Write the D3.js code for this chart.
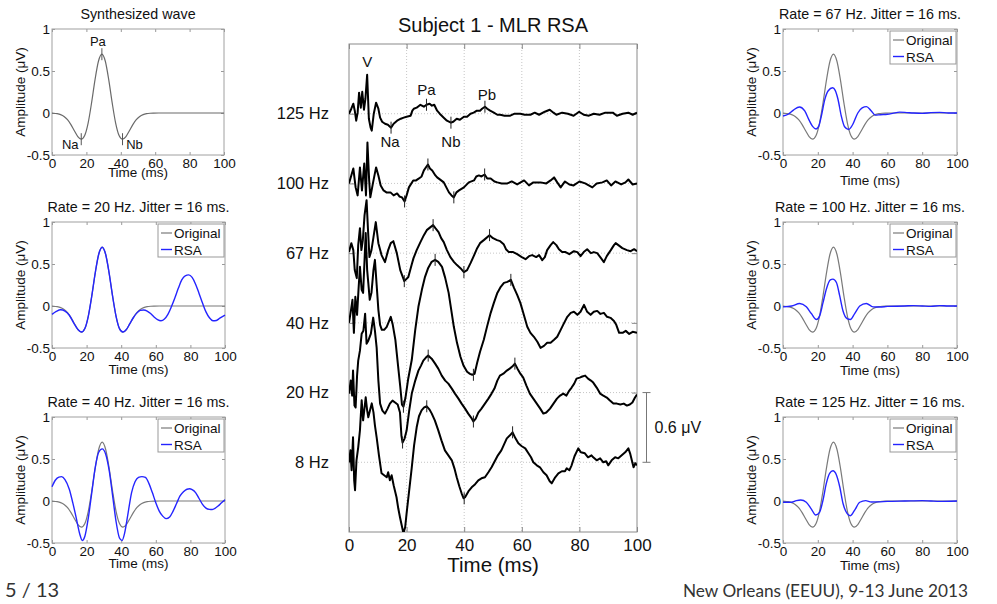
<!DOCTYPE html>
<html><head><meta charset="utf-8">
<script src="https://cdn.jsdelivr.net/npm/d3@7"></script>
<style>
body{margin:0;background:#fff;}
svg{display:block;font-family:"Liberation Sans",Arial,Helvetica,sans-serif;}
</style></head><body>
<svg id="chart" width="997" height="604"></svg>
<script>
// ================= DATA =================
const timeTicks = [0, 20, 40, 60, 80, 100];
const ampTicks = [-0.5, 0, 0.5, 1];
const rateLabels = ["125 Hz", "100 Hz", "67 Hz", "40 Hz", "20 Hz", "8 Hz"];
const rateOffsets = [3.0, 2.4, 1.8, 1.2, 0.6, 0];   // μV vertical offset of each trace
const scaleBarUV = 0.6;

// Center plot traces: [time ms, μV relative to own baseline]
const trace125 = [[0,0],[0.8,0.043],[1.5,0.086],[2,0.026],[2.5,-0.06],[3,0.009],[3.5,0.181],[4.1,0.052],[4.6,0.189],[5.2,0.034],[5.7,0.129],[6.3,0.335],[6.9,-0.043],[7.5,-0.12],[7.9,-0.146],[8.6,0],[9.4,0.095],[10.2,0.043],[10.8,-0.034],[11.5,-0.069],[12.5,-0.086],[13.5,-0.095],[14.6,-0.12],[15.5,-0.086],[16.7,-0.06],[18,-0.043],[19,-0.034],[20,-0.026],[21.4,-0.017],[22,0.026],[22.5,0.043],[23.5,0.052],[24.8,0.077],[26,0.06],[26.9,0.077],[28,0.086],[28.8,0.069],[29.6,0.077],[30.6,0.026],[31.5,0],[32.9,-0.034],[34,-0.06],[35.4,-0.077],[36.2,-0.069],[37.4,-0.043],[38.5,-0.052],[39.9,-0.026],[41,-0.026],[42.2,0],[43.3,0.009],[44.4,0.026],[45.5,0.026],[46.2,0.043],[47.2,0.06],[48,0.043],[49,0.026],[50.3,0.009],[51.5,-0.009],[52.5,-0.009],[54,-0.017],[56,-0.017],[57.5,0],[59.5,0],[61,-0.009],[63,-0.009],[64.5,0.009],[66,-0.009],[68,0.017],[69.7,0.034],[71,0.009],[72,-0.009],[74,0.009],[76,0],[78,-0.017],[79.9,0.017],[81.5,-0.009],[83.3,-0.017],[85,0],[87,-0.009],[89,0.009],[91.6,0.009],[93,-0.017],[95,0],[97,0.009],[98.5,-0.009],[100,0.009]];
const trace100 = [[0,0],[0.8,0.069],[1.5,0.129],[2.3,-0.034],[3,-0.103],[3.8,0.138],[4.5,-0.06],[5.3,0.172],[5.9,-0.103],[6.4,0.353],[7,0.026],[7.4,-0.12],[8.3,0],[9.4,0.138],[10.2,0.069],[11,-0.017],[12,-0.06],[13,-0.077],[14.4,-0.077],[15.5,-0.103],[16.7,-0.086],[17.5,-0.112],[18.4,-0.12],[19.3,-0.155],[20,-0.103],[20.8,-0.034],[22.3,0.026],[23.3,0.026],[24.3,0.043],[25.2,0.06],[26,0.112],[27.4,0.163],[28.1,0.129],[28.9,0.112],[30,0.069],[30.6,0.052],[32,0.026],[32.9,0.009],[33.8,-0.034],[34.7,-0.077],[35.6,-0.103],[36.4,-0.12],[37.3,-0.077],[38.2,-0.06],[39.9,-0.034],[41.6,0.009],[43.4,0.026],[44.2,0.06],[45.1,0.069],[46,0.06],[47.1,0.077],[48,0.043],[49.2,0.043],[50.5,0.017],[51.5,0.009],[53,0],[55,0],[56.5,0.017],[58.4,-0.009],[60.8,0.026],[62.5,-0.017],[64,0.009],[66.5,0.009],[68.5,0],[70,0.026],[71.2,0.052],[72.3,0.009],[73.5,-0.034],[75,0.017],[76.5,-0.009],[78,-0.017],[80,0.017],[82,0],[84.5,-0.034],[86,0],[88,0.009],[89.5,0.026],[91,-0.017],[92.5,0.017],[94.5,-0.009],[96,0.009],[97,0.034],[98.5,-0.009],[100,0]];
const trace67 = [[0,0.009],[0.8,0.086],[1.5,0.026],[2,-0.146],[2.7,-0.215],[3.2,0.069],[3.8,0.215],[4.3,0.026],[4.8,0.112],[5.4,0.327],[6.1,0.456],[6.6,0.198],[7.1,-0.034],[7.8,0.026],[8.5,0.138],[9.3,0.267],[10.2,0.086],[11.3,-0.017],[12.5,-0.077],[13.6,0.026],[14.5,0.086],[15.4,0.103],[16.6,0],[17.8,-0.146],[19.2,-0.241],[20.6,-0.206],[21.8,-0.095],[22.4,-0.043],[23.5,0.026],[24.8,0.095],[26,0.155],[27,0.198],[28.3,0.224],[29.2,0.241],[30,0.215],[31.1,0.181],[32,0.129],[32.9,0.095],[34,0.026],[35.2,-0.034],[36.5,-0.077],[37.5,-0.103],[38.7,-0.129],[39.9,-0.163],[41,-0.146],[42.2,-0.086],[43.3,-0.026],[44.5,0.043],[45.5,0.086],[46.8,0.112],[48.8,0.155],[50,0.129],[51.4,0.112],[52.5,0.103],[53.7,0.077],[54.5,0.034],[55.5,0.009],[57,0.009],[58.4,-0.009],[60,-0.034],[61.3,-0.052],[62.5,-0.026],[63.6,-0.017],[65,-0.034],[66,-0.017],[67.1,-0.06],[68,-0.034],[68.8,0.026],[70,0.069],[70.9,0.095],[72,0.069],[72.9,0.034],[74,0.009],[75.2,0.009],[76.5,-0.009],[78.1,0.017],[79.3,0.009],[80.4,-0.026],[81.5,0.009],[82.7,0.034],[84,0],[85,0.009],[86.2,0],[87.5,-0.043],[88.5,-0.077],[89.5,-0.026],[90.9,0.026],[92,0.069],[92.6,0.086],[94,0.06],[94.9,0.043],[96.5,0.026],[97.8,0.017],[99,0.034],[100,0.017]];
const trace40 = [[0,0],[0.7,0.112],[1.2,0.198],[1.7,-0.086],[2.2,0.224],[2.8,0.069],[3.3,0.284],[3.8,0.482],[4.4,0.284],[4.9,0.258],[5.4,0.542],[5.8,0.774],[6.3,0.456],[6.7,0.344],[7.2,0.198],[7.8,0.258],[8.5,0.456],[9,0.542],[9.6,0.327],[10.2,0.112],[10.8,-0.017],[11.4,-0.06],[12.2,-0.06],[13.1,-0.034],[13.8,0.009],[14.5,0.052],[15.2,-0.017],[16.1,-0.146],[17,-0.361],[17.8,-0.55],[18.4,-0.705],[18.9,-0.722],[19.6,-0.645],[20.5,-0.49],[21.8,-0.318],[23,-0.06],[24.1,0.138],[25.3,0.284],[26.4,0.396],[27.5,0.473],[28.7,0.525],[29.9,0.542],[31,0.525],[32.3,0.482],[33.4,0.387],[34.6,0.258],[35.5,0.112],[36.4,-0.034],[37.5,-0.172],[38.7,-0.292],[39.8,-0.37],[41,-0.421],[42,-0.439],[42.8,-0.447],[43.6,-0.439],[44.5,-0.344],[45.5,-0.249],[46.8,-0.146],[48,-0.026],[49.2,0.086],[50.3,0.172],[51.5,0.258],[52.7,0.31],[53.8,0.344],[55,0.353],[56.2,0.37],[57.3,0.301],[58.4,0.241],[59.5,0.172],[60.7,0.069],[61.9,-0.034],[63,-0.086],[64.2,-0.12],[65.4,-0.163],[66.5,-0.215],[67.7,-0.198],[68.8,-0.172],[70,-0.172],[71.2,-0.146],[72.3,-0.12],[73.5,-0.06],[74.7,0],[75.8,0.052],[77,0.086],[78.1,0.095],[79.3,0.069],[80.4,0.095],[81.6,0.155],[82.7,0.095],[83.9,0.069],[85,0.095],[86.2,0.103],[87.3,0.077],[88.5,0.086],[89.6,0.052],[90.8,0.043],[92,0.017],[92.8,-0.017],[93.8,-0.086],[95,-0.086],[96.1,-0.069],[97.3,-0.095],[98.5,-0.077],[100,-0.086]];
const trace20 = [[0,-0.009],[0.6,0.103],[1.1,-0.026],[1.4,0.189],[1.9,-0.112],[2.3,-0.129],[2.8,0.146],[3.2,0.275],[3.8,0.361],[4.4,0.507],[5,0.533],[5.6,0.679],[6.1,0.421],[6.7,0.447],[7.6,0.507],[8.4,0.645],[9,0.533],[9.6,0.387],[10.2,0.103],[10.8,-0.095],[11.6,-0.155],[12.5,-0.181],[13.4,-0.138],[14.2,-0.095],[15.1,-0.069],[16,-0.086],[16.9,-0.103],[17.7,-0.172],[18.2,-0.37],[18.6,-0.43],[19.3,-0.396],[20,-0.327],[20.9,-0.155],[21.8,-0.009],[23,0.103],[24.1,0.189],[25,0.232],[25.8,0.275],[26.7,0.301],[27.5,0.318],[28.7,0.292],[29.9,0.249],[31,0.206],[32.2,0.146],[33.4,0.103],[34.5,0.077],[35.7,0.034],[36.8,-0.009],[38,-0.052],[39.1,-0.095],[40.3,-0.138],[41.4,-0.181],[42.4,-0.215],[43.2,-0.249],[44,-0.224],[44.9,-0.172],[46,-0.138],[47.2,-0.095],[48.4,-0.052],[49.5,-0.009],[50.5,0.034],[51.5,0.103],[52.4,0.146],[53.6,0.163],[54.8,0.189],[55.8,0.206],[56.7,0.224],[57.6,0.249],[58.5,0.206],[59.5,0.163],[60.5,0.129],[61.6,0.06],[62.8,-0.009],[64,-0.052],[65.2,-0.095],[66.4,-0.138],[67.5,-0.181],[68.5,-0.172],[69.8,-0.138],[71,-0.095],[72.2,-0.052],[73.3,-0.026],[74.4,-0.009],[75.5,-0.026],[76.5,0.017],[77.3,0.043],[78.2,0.077],[79,0.12],[80.1,0.129],[81,0.138],[82,0.146],[83,0.12],[84,0.103],[84.8,0.086],[86,0.043],[87.2,-0.009],[88.3,-0.026],[89.5,-0.043],[90.6,-0.069],[91.8,-0.095],[93,-0.095],[94.2,-0.103],[95.4,-0.095],[96.5,-0.112],[97.5,-0.103],[98.4,-0.086],[99.3,-0.043],[100,-0.017]];
const trace8 = [[0,0],[0.5,0.103],[0.9,-0.069],[1.4,0.215],[1.8,-0.155],[2.1,-0.241],[2.6,0.017],[3.2,0.129],[3.8,0.275],[4.4,0.533],[4.9,0.361],[5.3,0.447],[5.8,0.559],[6.3,0.447],[6.7,0.387],[7.3,0.447],[7.9,0.507],[8.5,0.43],[9,0.318],[9.6,0.215],[10.4,0.06],[11.3,-0.095],[12.2,-0.112],[13.1,-0.129],[13.6,-0.086],[14.2,-0.155],[14.8,-0.112],[15.5,-0.198],[16.5,-0.301],[17.1,-0.396],[17.7,-0.473],[18.3,-0.542],[18.9,-0.611],[19.5,-0.559],[20,-0.439],[20.9,-0.241],[21.8,-0.043],[22.6,0.146],[23.5,0.301],[24.3,0.396],[25.2,0.447],[26.1,0.473],[27,0.482],[27.9,0.456],[28.7,0.421],[29.8,0.361],[31,0.275],[32.1,0.189],[33.3,0.103],[34.5,0.06],[35.7,0.017],[36.6,-0.052],[37.4,-0.129],[38.3,-0.206],[39.1,-0.267],[39.8,-0.31],[40.3,-0.301],[41.5,-0.249],[42.6,-0.215],[43.8,-0.189],[44.9,-0.155],[46,-0.138],[47.2,-0.129],[48.4,-0.086],[49.5,-0.043],[50.6,0.009],[51.7,0.06],[52.9,0.103],[54,0.163],[54.8,0.206],[55.9,0.232],[56.8,0.258],[57.8,0.206],[58.8,0.163],[60,0.138],[61.2,0.12],[62.3,0.077],[63.2,0.043],[64,0],[65.2,-0.026],[66.3,-0.043],[67.5,-0.086],[68.6,-0.112],[69.7,-0.163],[70.4,-0.181],[71.6,-0.129],[72.7,-0.095],[73.9,-0.077],[75,-0.077],[75.6,-0.052],[76.5,-0.069],[77.3,-0.026],[78.3,0.052],[79.6,0.12],[80.5,0.086],[81.9,0.077],[83,0.043],[84.2,0.06],[84.8,0.043],[86,0.017],[87.2,0.034],[88.3,0],[89.3,0.009],[90,-0.026],[91.2,0.017],[92.4,0.043],[93.5,0.034],[94.7,0.06],[95.9,0.086],[97,0.12],[97.6,0.077],[98.2,0.017],[98.8,-0.043],[99.4,-0.009],[100,-0.026]];
const centerTraces = [trace125, trace100, trace67, trace40, trace20, trace8];

// Peak markers on the center traces: [time ms, μV]
const markers125 = [[14.6,-0.12],[26.9,0.077],[35.4,-0.077],[47.2,0.06]];
const markers100 = [[19.3,-0.155],[27.4,0.163],[36.4,-0.12],[47.1,0.077]];
const markers67 = [[19.2,-0.241],[29.2,0.241],[39.9,-0.163],[48.8,0.155]];
const markers40 = [[18.9,-0.722],[29.9,0.542],[43.2,-0.447],[56.2,0.37]];
const markers20 = [[18.6,-0.43],[27.5,0.318],[43.2,-0.249],[57.6,0.249]];
const markers8 = [[27,0.482],[40,-0.31],[56.8,0.258]];
const centerMarkers = [markers125, markers100, markers67, markers40, markers20, markers8];
const peakNames125 = [["V",6.3,0.335],["Na",14.6,-0.12],["Pa",26.9,0.077],["Nb",35.4,-0.077],["Pb",47.2,0.06]];

// Synthesized wave (Original) [time ms, μV]
const originalWave = [[0,-0.002],[1,-0.003],[3,-0.008],[5,-0.019],[7,-0.041],[9,-0.08],[11,-0.138],[13,-0.211],[15,-0.28],[17,-0.312],[19,-0.268],[21,-0.12],[23,0.12],[25,0.395],[27,0.616],[29,0.7],[31,0.616],[33,0.395],[35,0.12],[37,-0.12],[39,-0.268],[41,-0.312],[43,-0.28],[45,-0.211],[47,-0.138],[49,-0.08],[51,-0.041],[53,-0.019],[55,-0.008],[57,-0.003],[59,-0.001],[62,0],[100,0]];
const synthPeaks = [["Na",17,-0.312],["Pa",29,0.7],["Nb",41,-0.312]];

// RSA estimates [time ms, μV]
const rsa20 = [[0,-0.1],[2.5,-0.065],[5,-0.045],[7.5,-0.06],[10,-0.11],[12.5,-0.2],[15,-0.28],[17,-0.31],[19,-0.268],[21,-0.12],[23,0.12],[25,0.395],[27,0.616],[29,0.7],[31,0.616],[33,0.395],[35,0.12],[37,-0.12],[39,-0.27],[41,-0.31],[43,-0.28],[45,-0.21],[47,-0.14],[49,-0.085],[51,-0.052],[53,-0.048],[55,-0.06],[57,-0.09],[59,-0.13],[61,-0.162],[63,-0.175],[65,-0.155],[67,-0.1],[69,-0.01],[71,0.095],[73,0.21],[75,0.31],[77,0.36],[79,0.37],[81,0.34],[83,0.26],[85,0.15],[87,0.035],[89,-0.07],[91,-0.14],[93,-0.175],[95,-0.172],[97,-0.145],[100,-0.11]];
const rsa40 = [[0,0.17],[2,0.25],[4,0.285],[5.5,0.29],[7.5,0.255],[10,0.14],[12,-0.02],[14,-0.2],[16,-0.39],[17.5,-0.47],[19,-0.42],[21,-0.2],[23,0.1],[25,0.4],[27,0.58],[29,0.62],[31,0.56],[33,0.37],[35,0.07],[37,-0.24],[39,-0.44],[40.5,-0.47],[42,-0.38],[44,-0.14],[46,0.1],[48,0.23],[50,0.28],[52,0.29],[54,0.28],[56,0.21],[58,0.1],[60,-0.02],[62,-0.12],[64,-0.18],[66,-0.21],[68,-0.19],[70,-0.12],[72,-0.03],[74,0.06],[76,0.11],[78,0.14],[79.5,0.145],[81,0.135],[83,0.1],[85,0.03],[87,-0.04],[89,-0.085],[91,-0.1],[92.5,-0.102],[94,-0.09],[96,-0.06],[98,-0.02],[100,0.016]];
const rsa67 = [[0,-0.035],[3,-0.015],[6,0.035],[9.5,0.072],[12.5,0.025],[15,-0.085],[17,-0.16],[19,-0.19],[20.5,-0.16],[22,-0.04],[24,0.16],[26,0.265],[28.5,0.3],[30,0.27],[31.6,0.164],[33.5,-0.036],[35.4,-0.164],[37.7,-0.196],[40,-0.14],[43,0],[45.5,0.06],[48,0.076],[50.5,0.03],[53,-0.025],[56,-0.02],[60,-0.015],[63,-0.005],[67,0.01],[70,0.008],[75,0],[80,-0.004],[85,0.004],[90,0.008],[95,0],[100,0]];
const rsa100 = [[0,-0.01],[5,0],[9.6,0.03],[13.4,-0.01],[16.3,-0.09],[19.2,-0.16],[21,-0.12],[23,0.04],[24.9,0.2],[27.2,0.31],[28.7,0.32],[30.7,0.28],[32.6,0.12],[34.5,-0.06],[36.8,-0.15],[38.7,-0.16],[41.2,-0.09],[44.1,0],[47.9,0.03],[51.7,-0.01],[55.6,-0.012],[60,-0.005],[70,0],[75,0.005],[80,0],[85,-0.005],[90,0.005],[95,0],[100,0]];
const rsa125 = [[0,-0.015],[4.8,-0.015],[7.7,0.005],[10.2,0.012],[13.4,-0.015],[16.3,-0.096],[18.8,-0.167],[21,-0.135],[23,0.012],[24.9,0.21],[26.8,0.33],[28.7,0.36],[30.7,0.31],[32.6,0.17],[34.5,-0.03],[36.8,-0.147],[38.7,-0.175],[41.2,-0.108],[44.1,-0.015],[47.5,0.005],[50.8,-0.012],[54.6,-0.01],[60,-0.005],[70,0],[80,0.005],[85,0],[90,-0.005],[100,0]];
const legendNames = ["Original", "RSA"];

// ================= DRAWING =================
const svg = d3.select("#chart");
svg.append("rect").attr("width",997).attr("height",604).attr("fill","#fff");

// ---------- Center plot ----------
const cX = d3.scaleLinear().domain([0,100]).range([349,637]);
const cY = d3.scaleLinear().domain([-0.6,3.6]).range([532,44]);
const cg = svg.append("g");
cg.append("defs").append("clipPath").attr("id","cclip")
  .append("rect").attr("x",cX(0)).attr("y",cY(3.6)).attr("width",cX(100)-cX(0)).attr("height",cY(-0.6)-cY(3.6));

// grid
cg.append("g").selectAll("line").data(timeTicks.slice(1,-1)).join("line")
  .attr("x1",d=>cX(d)).attr("x2",d=>cX(d)).attr("y1",cY(3.6)).attr("y2",cY(-0.6))
  .attr("stroke","#b8b8b8").attr("stroke-width",0.8).attr("stroke-dasharray","1,2");
cg.append("g").selectAll("line").data(rateOffsets).join("line")
  .attr("x1",cX(0)).attr("x2",cX(100)).attr("y1",d=>cY(d)).attr("y2",d=>cY(d))
  .attr("stroke","#b8b8b8").attr("stroke-width",0.8).attr("stroke-dasharray","1,2");

// axes
const axBottom = cg.append("g").attr("transform",`translate(0,${cY(-0.6)})`)
  .call(d3.axisBottom(cX).tickValues(timeTicks).tickSize(-5).tickPadding(7));
const axTop = cg.append("g").attr("transform",`translate(0,${cY(3.6)})`)
  .call(d3.axisTop(cX).tickValues(timeTicks).tickSize(-5).tickFormat(""));
const axLeft = cg.append("g").attr("transform",`translate(${cX(0)},0)`)
  .call(d3.axisLeft(cY).tickValues(rateOffsets).tickFormat((d,i)=>rateLabels[i]).tickSize(-5).tickPadding(20));
const axRight = cg.append("g").attr("transform",`translate(${cX(100)},0)`)
  .call(d3.axisRight(cY).tickValues(rateOffsets).tickSize(-5).tickFormat(""));
[axBottom,axTop,axLeft,axRight].forEach(a=>{
  a.select(".domain").remove();
  a.selectAll(".tick line").attr("stroke","#888");
});
axBottom.selectAll("text").attr("font-size",17).attr("fill","#111").attr("font-family","Liberation Sans, Arial, sans-serif");
axLeft.selectAll("text").attr("font-size",16.5).attr("fill","#111").attr("font-family","Liberation Sans, Arial, sans-serif");
cg.append("rect").attr("x",cX(0)).attr("y",cY(3.6)).attr("width",cX(100)-cX(0)).attr("height",cY(-0.6)-cY(3.6))
  .attr("fill","none").attr("stroke","#8a8a8a").attr("stroke-width",1);

// traces
const tg = cg.append("g").attr("clip-path","url(#cclip)");
centerTraces.forEach((tr,i)=>{
  const off = rateOffsets[i];
  const line = d3.line().x(d=>cX(d[0])).y(d=>cY(d[1]+off));
  tg.append("path").datum(tr).attr("d",line).attr("fill","none")
    .attr("stroke","#000").attr("stroke-width",2).attr("stroke-linejoin","round");
  tg.append("g").selectAll("line").data(centerMarkers[i]).join("line")
    .attr("x1",d=>cX(d[0])).attr("x2",d=>cX(d[0]))
    .attr("y1",d=>cY(d[1]+off)-6).attr("y2",d=>cY(d[1]+off)+6)
    .attr("stroke","#222").attr("stroke-width",1);
});
// peak names on 125 Hz trace
const nameDy = {V:-8, Pa:-10, Pb:-7, Na:19, Nb:24};
cg.append("g").selectAll("text").data(peakNames125).join("text")
  .attr("x",d=>cX(d[1])+(d[0]==="Na"?-1:(d[0]==="Pb"?2:0)))
  .attr("y",d=>cY(d[2]+rateOffsets[0])+nameDy[d[0]])
  .attr("text-anchor","middle").attr("font-size",15).attr("fill","#111")
  .text(d=>d[0]);

// title and x label
cg.append("text").attr("x",(cX(0)+cX(100))/2).attr("y",32).attr("text-anchor","middle")
  .attr("font-size",20).attr("fill","#111").text("Subject 1 - MLR RSA");
cg.append("text").attr("x",(cX(0)+cX(100))/2).attr("y",572).attr("text-anchor","middle")
  .attr("font-size",20.5).attr("fill","#111").text("Time (ms)");

// scale bar
const sbx = cX(100)+9.5;
const sb = cg.append("g").attr("stroke","#777").attr("stroke-width",1);
sb.append("line").attr("x1",sbx).attr("x2",sbx).attr("y1",cY(0)).attr("y2",cY(scaleBarUV));
sb.append("line").attr("x1",sbx-4).attr("x2",sbx+4).attr("y1",cY(0)).attr("y2",cY(0));
sb.append("line").attr("x1",sbx-4).attr("x2",sbx+4).attr("y1",cY(scaleBarUV)).attr("y2",cY(scaleBarUV));
cg.append("text").attr("x",sbx+8).attr("y",(cY(0)+cY(scaleBarUV))/2+6).attr("font-size",16).attr("fill","#111")
  .text(scaleBarUV+" \u03BCV");

// ---------- Small panels ----------
const panels = [
  {x0:52, x1:224, y0:29, y1:155, title:"Synthesized wave", rsa:null, lab:17},
  {x0:52, x1:225, y0:222, y1:348, title:"Rate = 20 Hz. Jitter = 16 ms.", rsa:rsa20, lab:21},
  {x0:52, x1:225, y0:417, y1:543, title:"Rate = 40 Hz. Jitter = 16 ms.", rsa:rsa40, lab:20},
  {x0:783, x1:957, y0:29, y1:155, title:"Rate = 67 Hz. Jitter = 16 ms.", rsa:rsa67, lab:25},
  {x0:783, x1:957, y0:222, y1:348, title:"Rate = 100 Hz. Jitter = 16 ms.", rsa:rsa100, lab:22},
  {x0:783, x1:957, y0:417, y1:543, title:"Rate = 125 Hz. Jitter = 16 ms.", rsa:rsa125, lab:22}
];
const origColor = "#7a7a7a", rsaColor = "#2424ff";

panels.forEach(p=>{
  const x = d3.scaleLinear().domain([0,100]).range([p.x0,p.x1]);
  const y = d3.scaleLinear().domain([-0.5,1]).range([p.y1,p.y0]);
  const g = svg.append("g").attr("font-family","Liberation Sans, Arial, sans-serif");
  const axB = g.append("g").attr("transform",`translate(0,${p.y1})`)
    .call(d3.axisBottom(x).tickValues(timeTicks).tickSize(-3).tickPadding(3));
  const axT = g.append("g").attr("transform",`translate(0,${p.y0})`)
    .call(d3.axisTop(x).tickValues(timeTicks).tickSize(-3).tickFormat(""));
  const axL = g.append("g").attr("transform",`translate(${p.x0},0)`)
    .call(d3.axisLeft(y).tickValues(ampTicks).tickSize(-3).tickPadding(2).tickFormat(d=>d===0?"0":String(d)));
  const axR = g.append("g").attr("transform",`translate(${p.x1},0)`)
    .call(d3.axisRight(y).tickValues(ampTicks).tickSize(-3).tickFormat(""));
  [axB,axT,axL,axR].forEach(a=>{
    a.select(".domain").remove();
    a.selectAll(".tick line").attr("stroke","#999");
    a.selectAll("text").attr("font-size",13.5).attr("fill","#111").attr("font-family","Liberation Sans, Arial, sans-serif");
  });
  g.append("rect").attr("x",p.x0).attr("y",p.y0).attr("width",p.x1-p.x0).attr("height",p.y1-p.y0)
    .attr("fill","none").attr("stroke","#a0a0a0").attr("stroke-width",1);

  const line = d3.line().x(d=>x(d[0])).y(d=>y(d[1])).curve(d3.curveMonotoneX);
  g.append("path").datum(originalWave).attr("d",line).attr("fill","none")
    .attr("stroke",p.rsa?origColor:"#6a6a6a").attr("stroke-width",1.2);
  if(p.rsa){
    g.append("path").datum(p.rsa).attr("d",line).attr("fill","none")
      .attr("stroke",rsaColor).attr("stroke-width",1.4);
    // legend
    const lw = 66, lh = 33, lx = p.x1-1-lw, ly = p.y0+2;
    const lg = g.append("g");
    lg.append("rect").attr("x",lx).attr("y",ly).attr("width",lw).attr("height",lh)
      .attr("fill","#fff").attr("stroke","#999").attr("stroke-width",1);
    legendNames.forEach((nm,i)=>{
      const yy = ly+9+i*16.5;
      lg.append("line").attr("x1",lx+3).attr("x2",lx+14).attr("y1",yy).attr("y2",yy)
        .attr("stroke",i===0?origColor:rsaColor).attr("stroke-width",i===0?1.2:1.4);
      lg.append("text").attr("x",lx+16).attr("y",yy+5).attr("font-size",13.5).attr("fill","#111").text(nm);
    });
  } else {
    // peak ticks and labels on synthesized wave
    g.selectAll("line.pk").data(synthPeaks).join("line").attr("class","pk")
      .attr("x1",d=>x(d[1])).attr("x2",d=>x(d[1])).attr("y1",d=>y(d[2])-6).attr("y2",d=>y(d[2])+6)
      .attr("stroke","#555").attr("stroke-width",1);
    const lblOff = {Na:[-11,10], Pa:[-4,-8], Nb:[12,10]};
    g.selectAll("text.pk").data(synthPeaks).join("text").attr("class","pk")
      .attr("x",d=>x(d[1])+lblOff[d[0]][0]).attr("y",d=>y(d[2])+lblOff[d[0]][1])
      .attr("text-anchor","middle").attr("font-size",13).attr("fill","#111").text(d=>d[0]);
  }
  g.append("text").attr("x",(p.x0+p.x1)/2).attr("y",p.y0-10).attr("text-anchor","middle")
    .attr("font-size",14.3).attr("fill","#111").text(p.title);
  g.append("text").attr("x",(p.x0+p.x1)/2).attr("y",p.y1+p.lab+5).attr("text-anchor","middle")
    .attr("font-size",13.5).attr("fill","#111").text("Time (ms)");
  g.append("text").attr("transform",`translate(${p.x0-32},${(p.y0+p.y1)/2}) rotate(-90)`)
    .attr("text-anchor","middle").attr("dominant-baseline","central")
    .attr("font-size",13.5).attr("fill","#111").text("Amplitude (\u03BCV)");
});

// ---------- Slide footer ----------
svg.append("text").attr("x",5).attr("y",597).attr("font-family","Lato, 'Open Sans', sans-serif")
  .attr("font-size",20).attr("fill","#333").text("5 / 13");
svg.append("text").attr("x",683).attr("y",597).attr("font-family","Lato, 'Open Sans', sans-serif")
  .attr("font-size",18).attr("fill","#333").attr("textLength",285).attr("lengthAdjust","spacingAndGlyphs")
  .text("New Orleans (EEUU), 9-13 June 2013");
</script>
</body></html>
